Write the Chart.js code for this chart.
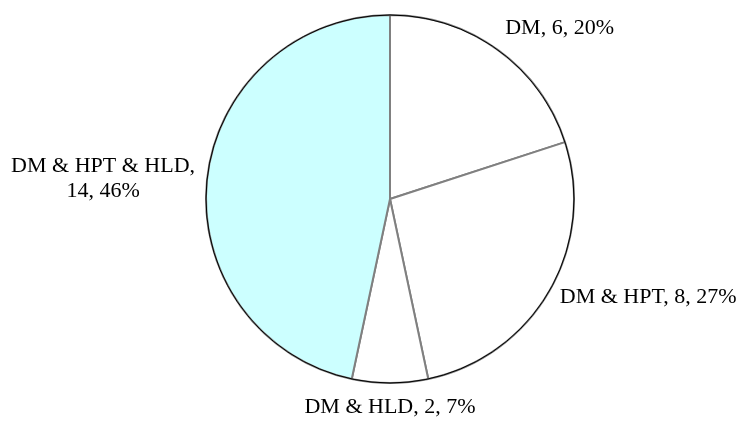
<!DOCTYPE html>
<html>
<head>
<meta charset="utf-8">
<script src="https://cdn.jsdelivr.net/npm/chart.js@4"></script>
<style>
  html, body { margin: 0; padding: 0; background: #ffffff; }
  #wrap { width: 742px; height: 421px; }
</style>
</head>
<body>
<div id="wrap"><canvas id="pie" width="742" height="421"></canvas></div>
<script>
// --- chart data ---------------------------------------------------------
var categories = ["DM", "DM & HPT", "DM & HLD", "DM & HPT & HLD"];
var counts = [6, 8, 2, 14];
var percents = ["20%", "27%", "7%", "46%"];
// label lines as printed in the reference (last one wraps)
var labelLines = [
    ["DM, 6, 20%"],
    ["DM & HPT, 8, 27%"],
    ["DM & HLD, 2, 7%"],
    ["DM & HPT & HLD,", "14, 46%"]
];
var sliceColors = ["#ffffff", "#ffffff", "#ffffff", "#ccffff"];

var LABEL_FONT = "22px 'Liberation Serif', 'Times New Roman', serif";
var LINE_H = 25;
var LABEL_GAP = 12;

// outer black rim + outside data labels, excel style
var pieLabels = {
    id: "pieLabels",
    afterDatasetsDraw: function (chart) {
        var ctx = chart.ctx;
        var meta = chart.getDatasetMeta(0);
        if (!meta.data.length) {
            return;
        }
        var a0 = meta.data[0];
        ctx.save();
        ctx.beginPath();
        ctx.arc(a0.x, a0.y, a0.outerRadius, 0, Math.PI * 2);
        ctx.strokeStyle = "#000000";
        ctx.lineWidth = 1;
        ctx.stroke();

        ctx.font = LABEL_FONT;
        ctx.fillStyle = "#000000";
        meta.data.forEach(function (arc, i) {
            var mid = (arc.startAngle + arc.endAngle) / 2;
            var dx = Math.cos(mid);
            var dy = Math.sin(mid);
            var r = arc.outerRadius + LABEL_GAP;
            var px = arc.x + r * dx;
            var py = arc.y + r * dy;
            var lines = labelLines[i];
            var boxH = lines.length * LINE_H;
            var boxW = 0;
            lines.forEach(function (ln) {
                boxW = Math.max(boxW, ctx.measureText(ln).width);
            });

            // box centre x
            var cx = px;
            if (dx > 0.3) {
                cx = px + boxW / 2;
            } else if (dx < -0.3) {
                cx = px - boxW / 2;
            }
            var top;
            if (dy < -0.6) {
                top = py - boxH;
            } else if (dy > 0.6) {
                top = py;
            } else {
                top = py - boxH / 2;
            }
            ctx.textAlign = "center";
            ctx.textBaseline = "middle";
            lines.forEach(function (ln, k) {
                ctx.fillText(ln, cx, top + LINE_H * k + LINE_H / 2);
            });
        });
        ctx.restore();
    }
};

new Chart(document.getElementById("pie").getContext("2d"), {
    type: "pie",
    data: {
        labels: categories,
        datasets: [{
            data: counts,
            backgroundColor: sliceColors,
            borderColor: "#808080",
            borderWidth: 2
        }]
    },
    options: {
        responsive: false,
        animation: false,
        layout: {
            padding: { top: 14, bottom: 37, left: 205, right: 167 }
        },
        plugins: {
            legend: { display: false },
            tooltip: { enabled: false }
        }
    },
    plugins: [pieLabels]
});
</script>
</body>
</html>
